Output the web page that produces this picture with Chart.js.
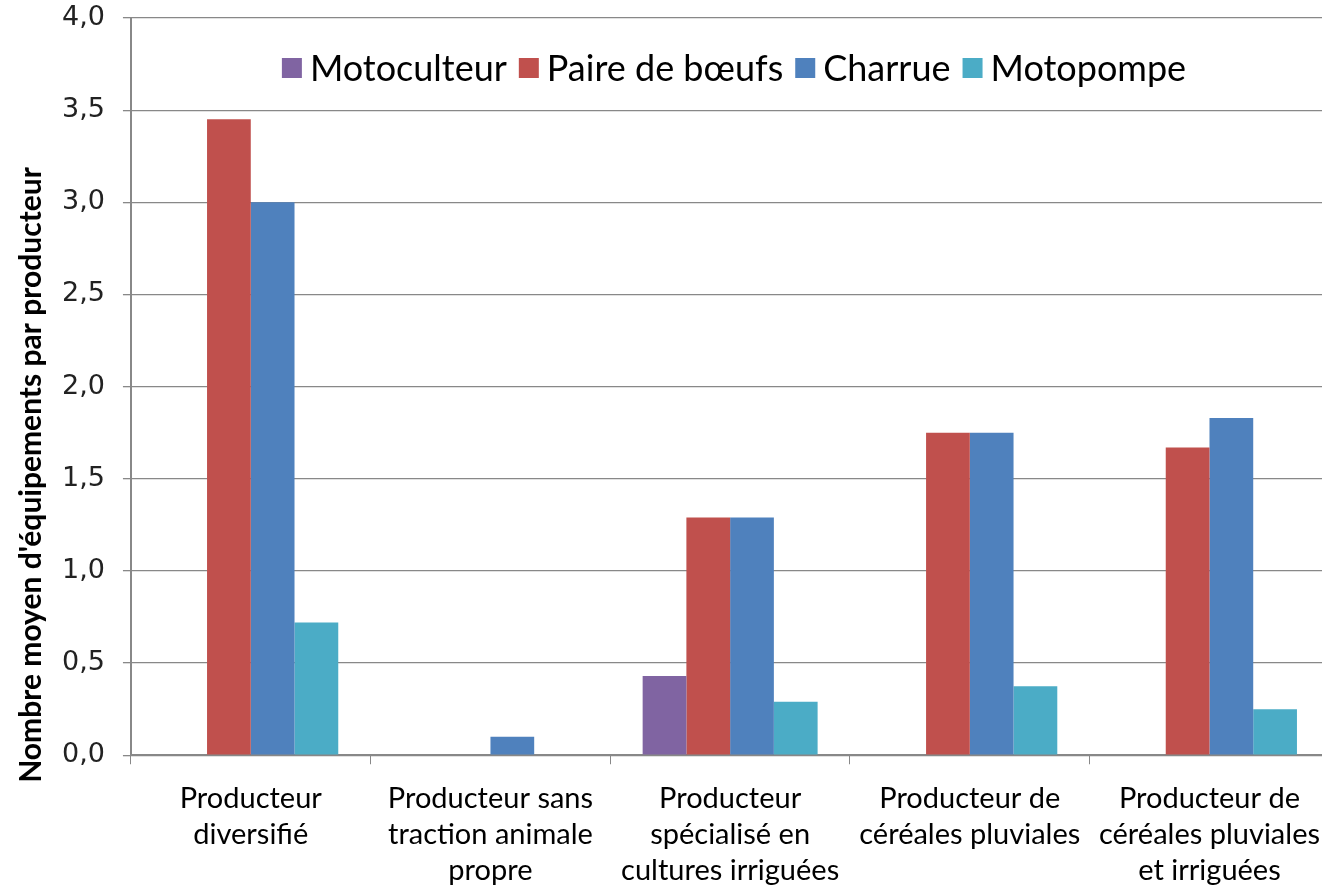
<!DOCTYPE html>
<html>
<head>
<meta charset="utf-8">
<script src="https://cdn.jsdelivr.net/npm/chart.js"></script>
<style>
  html, body { margin: 0; padding: 0; background: #fff; overflow: hidden; }
  #wrap { position: relative; width: 1336px; height: 890px; }
</style>
</head>
<body>
<div id="wrap"><canvas id="chart"></canvas></div>

<script>
const categories = [
  ['Producteur', 'diversifié'],
  ['Producteur sans', 'traction animale', 'propre'],
  ['Producteur', 'spécialisé en', 'cultures irriguées'],
  ['Producteur de', 'céréales pluviales'],
  ['Producteur de', 'céréales pluviales', 'et irriguées']
];
const seriesNames = ['Motoculteur', 'Paire de bœufs', 'Charrue', 'Motopompe'];
const seriesColors = ['#8064A2', '#C0504D', '#4F81BD', '#4BACC6'];
const motoculteur = [0, 0, 0.43, 0, 0];
const paireBoeufs = [3.45, 0, 1.29, 1.75, 1.67];
const charrue = [3.0, 0.1, 1.29, 1.75, 1.83];
const motopompe = [0.72, 0, 0.29, 0.375, 0.25];
const yTicks = [0, 0.5, 1, 1.5, 2, 2.5, 3, 3.5, 4];
const yTitle = "Nombre moyen d'équipements par producteur";

const values = [motoculteur, paireBoeufs, charrue, motopompe];

// legend drawn inside the plot area, like the original
const insideLegend = {
  id: 'insideLegend',
  afterDraw(chart) {
    const c = chart.ctx;
    c.save();
    c.font = '36px Lato';
    c.textBaseline = 'middle';
    const box = 20, gap = 8, spacing = 12;
    const items = chart.data.datasets.map(d => ({ label: d.label, color: d.backgroundColor }));
    let total = 0;
    items.forEach(it => { it.w = box + gap + c.measureText(it.label).width; total += it.w; });
    total += spacing * (items.length - 1);
    let x = 734 - total / 2;
    const y = 68;
    items.forEach(it => {
      c.fillStyle = it.color;
      c.fillRect(x, y - box / 2, box, box);
      c.fillStyle = '#000';
      c.fillText(it.label, x + box + gap, y + 1);
      x += it.w + spacing;
    });
    c.restore();
  }
};

// y title sits a bit lower than the plot centre in the original
const sideTitle = {
  id: 'sideTitle',
  afterDraw(chart) {
    const c = chart.ctx;
    c.save();
    c.font = 'bold 30px Lato';
    c.fillStyle = '#000';
    c.textAlign = 'center';
    c.textBaseline = 'middle';
    c.translate(31, 475);
    c.rotate(-Math.PI / 2);
    c.fillText(yTitle, 0, 0);
    c.restore();
  }
};

new Chart(document.getElementById('chart'), {
  type: 'bar',
  data: {
    labels: categories,
    datasets: seriesNames.map((name, i) => ({
      label: name,
      data: values[i],
      backgroundColor: seriesColors[i],
      borderWidth: 0,
      categoryPercentage: 0.73,
      barPercentage: 1
    }))
  },
  options: {
    responsive: true,
    maintainAspectRatio: false,
    animation: false,
    layout: { padding: { top: 18, right: 0, left: 44, bottom: 0 } },
    plugins: {
      legend: { display: false },
      tooltip: { enabled: false }
    },
    scales: {
      x: {
        afterFit: axis => { axis.height -= 15; },
        grid: { offset: true, drawOnChartArea: false, drawTicks: true, tickLength: 9, color: '#888' },
        border: { color: '#888', width: 2 },
        ticks: { color: '#000', font: { family: 'Lato', size: 29, lineHeight: 1.25 }, padding: 16, maxRotation: 0, autoSkip: false }
      },
      y: {
        min: 0,
        max: 4,
        afterBuildTicks: axis => { axis.ticks = yTicks.map(v => ({ value: v })); },
        afterFit: axis => { axis.paddingTop = 0; axis.paddingBottom = 0; },
        grid: { color: '#888', lineWidth: 1.3, tickLength: 8 },
        border: { color: '#888', width: 2 },
        ticks: {
          color: '#222',
          font: { family: 'DejaVu Sans', size: 27 },
          padding: 18,
          callback: v => v.toFixed(1).replace('.', ',')
        }
      }
    }
  },
  plugins: [insideLegend, sideTitle]
});
</script>
</body>
</html>
